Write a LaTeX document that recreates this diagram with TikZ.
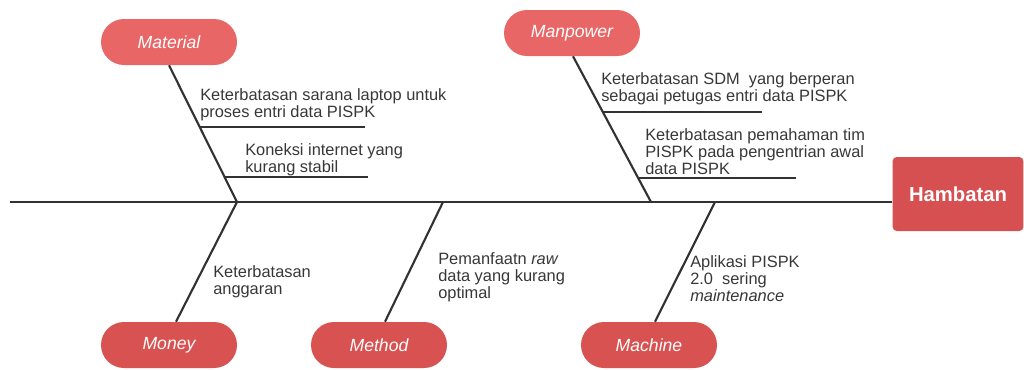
\documentclass[tikz,border=0pt]{standalone}
\usepackage{fontspec}
\setmainfont{Liberation Sans}
\usetikzlibrary{shapes.misc,calc}
\definecolor{pilltop}{RGB}{232,102,102}
\definecolor{pillbot}{RGB}{216,82,82}
\definecolor{headred}{RGB}{214,80,82}
\definecolor{ink}{RGB}{50,50,50}
\definecolor{txt}{RGB}{55,55,55}
\begin{document}
\begin{tikzpicture}[x=0.75pt,y=-0.75pt,
  pill/.style={rounded rectangle, minimum width=102pt, minimum height=34.5pt,
    inner sep=0pt, text=white, font=\fontsize{13.2}{14}\selectfont\itshape},
  toppill/.style={pill, fill=pilltop},
  botpill/.style={pill, fill=pillbot},
  headbox/.style={rectangle, rounded corners=3pt, fill=headred, minimum width=98pt,
    minimum height=55.5pt, inner sep=0pt, text=white,
    font=\fontsize{15.2}{16}\selectfont\bfseries},
  bone/.style={draw=ink, line width=1.6pt},
  spineline/.style={draw=ink, line width=1.5pt},
  tick/.style={draw=ink, line width=1pt},
  cause/.style={anchor=north west, inner sep=0pt, align=left, text=txt,
    font=\fontsize{12.3}{12.7}\selectfont}]
\useasboundingbox (0,0) rectangle (1024,369);
\clip (0,0) rectangle (1024,369);

% head of the fish
\node[headbox] (hamb) at (958,194) {Hambatan};

% category pills
\node[toppill] (mat) at (169,42) {Material};
\node[toppill] (man) at (572,33) {Manpower};
\node[botpill] (mon) at (169,345) {Money};
\node[botpill] (met) at (379,345) {Method};
\node[botpill] (mac) at (649,345) {Machine};

% spine and its junctions
\coordinate (tail) at (10,202);
\coordinate (jmat) at (237,202);
\coordinate (jman) at (651,202);
\coordinate (jmet) at (443,202);
\coordinate (jmac) at (715,202);
\draw[spineline] (tail) -- (tail -| hamb.west);

% bones
\draw[bone] (mat.south) -- (jmat);
\draw[bone] ($(man.south)+(1,0)$) -- (jman);
\draw[bone] (jmat) -- ($(mon.north)+(7,0)$);
\draw[bone] (jmet) -- ($(met.north)+(6,0)$);
\draw[bone] (jmac) -- ($(mac.north)+(6,0)$);

% sub-cause ticks
\coordinate (m1a) at (200,127); \coordinate (m1b) at (365,127);
\coordinate (m2a) at (225,177); \coordinate (m2b) at (368,177);
\coordinate (p1a) at (602,112); \coordinate (p1b) at (762,112);
\coordinate (p2a) at (638,178); \coordinate (p2b) at (796,178);
\draw[tick] (m1a) -- (m1b);
\draw[tick] (m2a) -- (m2b);
\draw[tick] (p1a) -- (p1b);
\draw[tick] (p2a) -- (p2b);

% causes
\node[cause] (cm1) at (200,88) {Keterbatasan sarana laptop untuk\\proses entri data PISPK};
\node[cause] (cm2) at (245,143) {Koneksi internet yang\\kurang stabil};
\node[cause] (cp1) at (601,72) {Keterbatasan SDM\ \ yang berperan\\sebagai petugas entri data PISPK};
\node[cause] (cp2) at (645,128) {Keterbatasan pemahaman tim\\PISPK pada pengentrian awal\\data PISPK};
\node[cause] (cmo) at (213,265) {Keterbatasan\\anggaran};
\node[cause] (cme) at (438,252) {Pemanfaatn \textit{raw}\\data yang kurang\\optimal};
\node[cause] (cma) at (690,255) {Aplikasi PISPK\\2.0\ \ sering\\\textit{maintenance}};
\end{tikzpicture}
\end{document}
